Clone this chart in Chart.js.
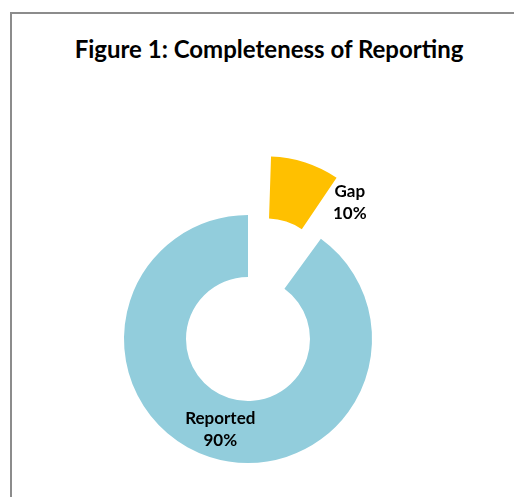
<!DOCTYPE html>
<html>
<head>
<meta charset="utf-8">
<script src="https://cdn.jsdelivr.net/npm/chart.js@4/dist/chart.umd.min.js"></script>
<style>
  html, body { margin: 0; padding: 0; background: #fff; overflow: hidden; }
  #frame { position: absolute; left: 10px; top: 12px; width: 600px; height: 600px; border: 2px solid #8c8c8c; }
  #title { position: absolute; left: 12px; top: 35px; width: 514px; text-align: center;
           font: bold 24px Lato, sans-serif; color: #000; line-height: 28px; }
  #pieChart { position: absolute; left: 0; top: 0; }
</style>
</head>
<body>
<div id="frame"></div>
<div id="title">Figure 1: Completeness of Reporting</div>
<canvas id="pieChart" width="514" height="497"></canvas>
<script>
const categories = ["Gap", "Reported"];
const shares = [10, 90];
const sliceColors = ["#FFC000", "#92CDDC"];

// pull-out of each slice (chart.js moves the arc by offset/4)
const sliceOffsets = [246, 0];
// nudge of each label from the middle of its slice
const labelShift = [[54, 10], [1, 2]];

// chart.js also grows an offset arc's radii; undo that so the slice only slides out
const plainExplode = {
  id: "plainExplode",
  afterDatasetUpdate(chart, args) {
    const ctrl = args.meta.controller;
    args.meta.data.forEach(arc => {
      const off = (arc.options.offset || 0) / 4;
      if (!off) return;
      const fix = 1 - Math.sin(Math.min(Math.PI, arc.circumference));
      arc.innerRadius = ctrl.innerRadius - off * fix;
      arc.outerRadius = ctrl.outerRadius - off * fix;
    });
  }
};

const sliceLabels = {
  id: "sliceLabels",
  afterDatasetsDraw(chart) {
    const ctx = chart.ctx;
    const meta = chart.getDatasetMeta(0);
    const ctrl = meta.controller;
    const midRadius = (ctrl.innerRadius + ctrl.outerRadius) / 2;
    ctx.save();
    ctx.font = "bold 17px Lato, sans-serif";
    ctx.fillStyle = "#000";
    ctx.textAlign = "center";
    ctx.textBaseline = "middle";
    meta.data.forEach((arc, i) => {
      const mid = (arc.startAngle + arc.endAngle) / 2;
      const r = midRadius + (arc.options.offset || 0) / 4;
      const x = arc.x + Math.cos(mid) * r + labelShift[i][0];
      const y = arc.y + Math.sin(mid) * r + labelShift[i][1];
      ctx.fillText(categories[i], x, y - 11);
      ctx.fillText(shares[i] + "%", x, y + 11);
    });
    ctx.restore();
  }
};

new Chart(document.getElementById("pieChart"), {
  type: "doughnut",
  data: {
    labels: categories,
    datasets: [{
      data: shares,
      backgroundColor: sliceColors,
      offset: sliceOffsets,
      borderWidth: 0,
      clip: false
    }]
  },
  options: {
    responsive: false,
    animation: false,
    radius: 124,
    cutout: "50%",
    layout: { padding: { left: 0, right: 18, top: 181, bottom: 0 } },
    plugins: {
      legend: { display: false },
      tooltip: { enabled: false }
    }
  },
  plugins: [plainExplode, sliceLabels]
});
</script>
</body>
</html>
